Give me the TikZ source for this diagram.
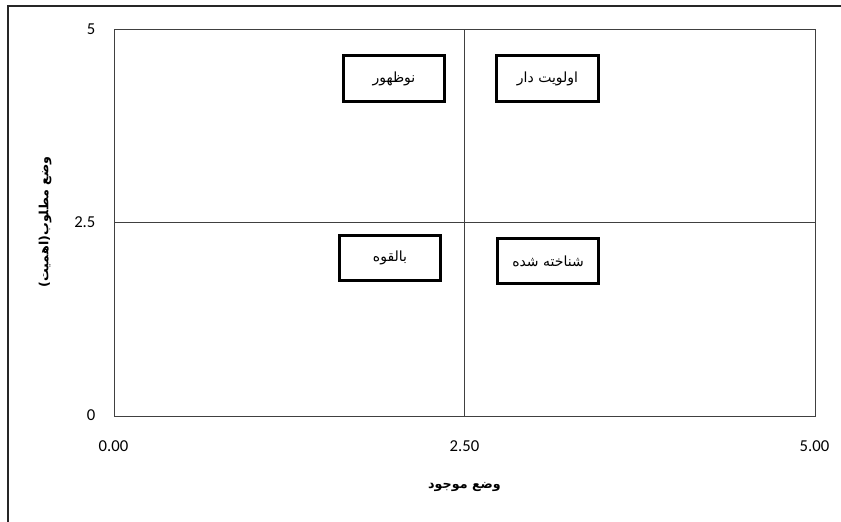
\documentclass[tikz,border=0pt]{standalone}
\usepackage{fontspec}
\setmainfont{Carlito}
\newfontfamily\arabicfont[Script=Arabic]{DejaVu Sans}
\TeXXeTstate=1
\begin{document}
\begin{tikzpicture}[x=0.75pt,y=-0.75pt,
  quad/.style={draw=black,line width=2.25pt,fill=white,minimum width=76pt,minimum height=34pt,inner sep=0pt,font=\arabicfont\fontsize{10.5}{12}\selectfont},
  tick/.style={font=\fontsize{12.5}{14}\selectfont,inner sep=1pt},
  grid/.style={draw=black!75,line width=0.75pt},
  axtitle/.style={font=\arabicfont\bfseries\fontsize{9.5}{11}\selectfont,inner sep=1pt}]
\useasboundingbox (0,0) rectangle (841,521);
% outer chart frame (cropped on right and bottom)
\coordinate (fbl) at (8,522);
\coordinate (ftl) at (8,6);
\coordinate (ftr) at (842,6);
\draw[line width=1.6pt,black!85] (fbl) -- (ftl) -- (ftr);
% plot area
\coordinate (pbl) at (114,416);
\coordinate (ptr) at (815,29);
\coordinate (mt) at (464.5,29);
\coordinate (mb) at (464.5,416);
\coordinate (ml) at (114,222);
\coordinate (mr) at (815,222);
\draw[grid] (pbl) rectangle (ptr);
\draw[grid] (mt) -- (mb);
\draw[grid] (ml) -- (mr);
% y tick labels
\node[tick,anchor=east] (y5) at (97,29) {5};
\node[tick,anchor=east] (y25) at (97,222) {2.5};
\node[tick,anchor=east] (y0) at (97,415) {0};
% x tick labels
\node[tick] (x0) at (113.5,446) {0.00};
\node[tick] (x25) at (464.5,446) {2.50};
\node[tick] (x5) at (814.5,446) {5.00};
% axis titles
\node[axtitle] (xt) at (464.5,487) {\beginR وضع موجود\endR};
\node[axtitle,rotate=90] (yt) at (45,222) {\beginR وضع مطلوب(اهمیت)\endR};
% quadrant boxes
\node[quad] (q1) at (394,78.5) {\beginR نوظهور\endR};
\node[quad] (q2) at (547.5,78.5) {\beginR اولویت دار\endR};
\node[quad] (q3) at (390,258) {\beginR بالقوه\endR};
\node[quad] (q4) at (548,261) {\beginR شناخته شده\endR};
\end{tikzpicture}
\end{document}
